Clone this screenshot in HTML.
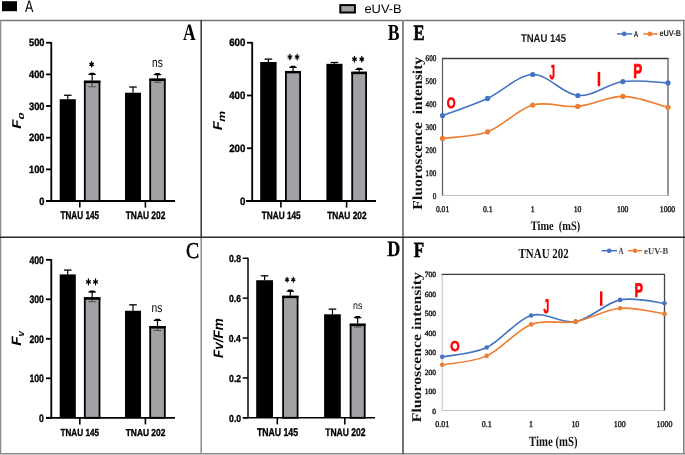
<!DOCTYPE html>
<html><head><meta charset="utf-8"><style>
html,body{margin:0;padding:0;background:#fff;width:685px;height:455px;overflow:hidden;}
svg{display:block;will-change:transform;}
</style></head><body>
<svg width="685" height="455" viewBox="0 0 685 455" style="text-rendering:geometricPrecision">
<rect x="0.00" y="0.00" width="685.00" height="455.00" fill="#fff" stroke="none" stroke-width="0"/>
<rect x="2.00" y="1.20" width="15.00" height="10.00" fill="#000" stroke="none" stroke-width="0"/>
<text x="24.97" y="12.00" font-family='"Liberation Sans", sans-serif' font-size="16.58" font-weight="normal" font-style="normal" fill="#000" textLength="8.36" lengthAdjust="spacingAndGlyphs" xml:space="preserve" >A</text>
<rect x="340.30" y="5.10" width="14.60" height="7.40" fill="#a2a2a6" stroke="#000" stroke-width="2"/>
<text x="364.45" y="13.28" font-family='"Liberation Sans", sans-serif' font-size="12.47" font-weight="normal" font-style="normal" fill="#000" textLength="37.23" lengthAdjust="spacingAndGlyphs" xml:space="preserve" >eUV-B</text>
<line x1="51.30" y1="42.10" x2="51.30" y2="201.90" stroke="#000" stroke-width="1.8" />
<line x1="46.00" y1="201.00" x2="175.00" y2="201.00" stroke="#000" stroke-width="1.8" />
<text x="29.00" y="46.42" font-family='"Liberation Sans", sans-serif' font-size="10.67" font-weight="bold" font-style="normal" fill="#000" textLength="15.51" lengthAdjust="spacingAndGlyphs" xml:space="preserve"  stroke="#000" stroke-width="0.35" stroke-linejoin="round">500</text>
<line x1="46.00" y1="201.00" x2="51.30" y2="201.00" stroke="#000" stroke-width="1.8" />
<text x="39.34" y="204.72" font-family='"Liberation Sans", sans-serif' font-size="10.67" font-weight="bold" font-style="normal" fill="#000" textLength="5.17" lengthAdjust="spacingAndGlyphs" xml:space="preserve"  stroke="#000" stroke-width="0.35" stroke-linejoin="round">0</text>
<line x1="46.00" y1="169.34" x2="51.30" y2="169.34" stroke="#000" stroke-width="1.8" />
<text x="29.00" y="173.06" font-family='"Liberation Sans", sans-serif' font-size="10.67" font-weight="bold" font-style="normal" fill="#000" textLength="15.51" lengthAdjust="spacingAndGlyphs" xml:space="preserve"  stroke="#000" stroke-width="0.35" stroke-linejoin="round">100</text>
<line x1="46.00" y1="137.68" x2="51.30" y2="137.68" stroke="#000" stroke-width="1.8" />
<text x="29.00" y="141.40" font-family='"Liberation Sans", sans-serif' font-size="10.67" font-weight="bold" font-style="normal" fill="#000" textLength="15.51" lengthAdjust="spacingAndGlyphs" xml:space="preserve"  stroke="#000" stroke-width="0.35" stroke-linejoin="round">200</text>
<line x1="46.00" y1="106.02" x2="51.30" y2="106.02" stroke="#000" stroke-width="1.8" />
<text x="29.00" y="109.71" font-family='"Liberation Sans", sans-serif' font-size="10.67" font-weight="bold" font-style="normal" fill="#000" textLength="15.51" lengthAdjust="spacingAndGlyphs" xml:space="preserve"  stroke="#000" stroke-width="0.35" stroke-linejoin="round">300</text>
<line x1="46.00" y1="74.36" x2="51.30" y2="74.36" stroke="#000" stroke-width="1.8" />
<text x="29.00" y="78.08" font-family='"Liberation Sans", sans-serif' font-size="10.67" font-weight="bold" font-style="normal" fill="#000" textLength="15.51" lengthAdjust="spacingAndGlyphs" xml:space="preserve"  stroke="#000" stroke-width="0.35" stroke-linejoin="round">400</text>
<line x1="46.00" y1="42.70" x2="51.30" y2="42.70" stroke="#000" stroke-width="1.8" />
<line x1="79.80" y1="201.00" x2="79.80" y2="207.60" stroke="#000" stroke-width="1.6" />
<line x1="145.40" y1="201.00" x2="145.40" y2="207.60" stroke="#000" stroke-width="1.6" />
<rect x="59.70" y="99.21" width="16.10" height="101.79" fill="#000" stroke="none" stroke-width="0"/>
<line x1="67.75" y1="95.26" x2="67.75" y2="99.21" stroke="#000" stroke-width="1.2" />
<line x1="63.95" y1="95.26" x2="71.55" y2="95.26" stroke="#000" stroke-width="1.3" />
<rect x="84.80" y="81.59" width="14.70" height="119.41" fill="#a2a2a6" stroke="#000" stroke-width="1.8"/>
<line x1="83.90" y1="81.89" x2="100.40" y2="81.89" stroke="#000" stroke-width="2.4" />
<line x1="92.15" y1="73.73" x2="92.15" y2="80.69" stroke="#000" stroke-width="1.2" />
<line x1="88.35" y1="74.33" x2="95.95" y2="74.33" stroke="#000" stroke-width="1.1" />
<rect x="89.55" y="72.73" width="5.2" height="2.2" rx="0.8" fill="#000"/>
<line x1="92.15" y1="83.09" x2="92.15" y2="86.71" stroke="#444" stroke-width="1.1" />
<line x1="88.35" y1="86.71" x2="95.95" y2="86.71" stroke="#555" stroke-width="1.1" />
<rect x="125.00" y="92.72" width="16.00" height="108.28" fill="#000" stroke="none" stroke-width="0"/>
<line x1="133.00" y1="87.02" x2="133.00" y2="92.72" stroke="#000" stroke-width="1.2" />
<line x1="129.20" y1="87.02" x2="136.80" y2="87.02" stroke="#000" stroke-width="1.3" />
<rect x="150.20" y="79.50" width="14.60" height="121.50" fill="#a2a2a6" stroke="#000" stroke-width="1.8"/>
<line x1="149.30" y1="79.80" x2="165.70" y2="79.80" stroke="#000" stroke-width="2.4" />
<line x1="157.50" y1="74.04" x2="157.50" y2="78.60" stroke="#000" stroke-width="1.2" />
<line x1="153.70" y1="74.64" x2="161.30" y2="74.64" stroke="#000" stroke-width="1.1" />
<rect x="154.90" y="73.04" width="5.2" height="2.2" rx="0.8" fill="#000"/>
<line x1="157.50" y1="81.00" x2="157.50" y2="82.28" stroke="#444" stroke-width="1.1" />
<line x1="153.70" y1="82.28" x2="161.30" y2="82.28" stroke="#555" stroke-width="1.1" />
<text x="60.49" y="219.11" font-family='"Liberation Sans", sans-serif' font-size="11.25" font-weight="bold" font-style="normal" fill="#000" textLength="38.57" lengthAdjust="spacingAndGlyphs" xml:space="preserve"  stroke="#000" stroke-width="0.35" stroke-linejoin="round">TNAU 145</text>
<text x="125.69" y="219.32" font-family='"Liberation Sans", sans-serif' font-size="10.95" font-weight="bold" font-style="normal" fill="#000" textLength="39.68" lengthAdjust="spacingAndGlyphs" xml:space="preserve"  stroke="#000" stroke-width="0.35" stroke-linejoin="round">TNAU 202</text>
<text x="152.11" y="66.87" font-family='"Liberation Sans", sans-serif' font-size="13.33" font-weight="normal" font-style="normal" fill="#000" textLength="10.76" lengthAdjust="spacingAndGlyphs" xml:space="preserve" >ns</text>
<line x1="252.20" y1="42.12" x2="252.20" y2="201.90" stroke="#000" stroke-width="1.8" />
<line x1="246.00" y1="201.00" x2="376.00" y2="201.00" stroke="#000" stroke-width="1.8" />
<text x="229.21" y="46.42" font-family='"Liberation Sans", sans-serif' font-size="10.67" font-weight="bold" font-style="normal" fill="#000" textLength="16.21" lengthAdjust="spacingAndGlyphs" xml:space="preserve"  stroke="#000" stroke-width="0.35" stroke-linejoin="round">600</text>
<line x1="247.00" y1="201.00" x2="252.20" y2="201.00" stroke="#000" stroke-width="1.8" />
<text x="240.02" y="204.70" font-family='"Liberation Sans", sans-serif' font-size="10.67" font-weight="bold" font-style="normal" fill="#000" textLength="5.40" lengthAdjust="spacingAndGlyphs" xml:space="preserve"  stroke="#000" stroke-width="0.35" stroke-linejoin="round">0</text>
<line x1="247.00" y1="148.24" x2="252.20" y2="148.24" stroke="#000" stroke-width="1.8" />
<text x="229.21" y="151.94" font-family='"Liberation Sans", sans-serif' font-size="10.67" font-weight="bold" font-style="normal" fill="#000" textLength="16.21" lengthAdjust="spacingAndGlyphs" xml:space="preserve"  stroke="#000" stroke-width="0.35" stroke-linejoin="round">200</text>
<line x1="247.00" y1="95.48" x2="252.20" y2="95.48" stroke="#000" stroke-width="1.8" />
<text x="229.21" y="99.18" font-family='"Liberation Sans", sans-serif' font-size="10.67" font-weight="bold" font-style="normal" fill="#000" textLength="16.21" lengthAdjust="spacingAndGlyphs" xml:space="preserve"  stroke="#000" stroke-width="0.35" stroke-linejoin="round">400</text>
<line x1="247.00" y1="42.72" x2="252.20" y2="42.72" stroke="#000" stroke-width="1.8" />
<line x1="280.90" y1="201.00" x2="280.90" y2="207.60" stroke="#000" stroke-width="1.6" />
<line x1="346.60" y1="201.00" x2="346.60" y2="207.60" stroke="#000" stroke-width="1.6" />
<rect x="260.20" y="61.98" width="16.40" height="139.02" fill="#000" stroke="none" stroke-width="0"/>
<line x1="268.40" y1="59.08" x2="268.40" y2="61.98" stroke="#000" stroke-width="1.2" />
<line x1="264.60" y1="59.08" x2="272.20" y2="59.08" stroke="#000" stroke-width="1.3" />
<rect x="285.90" y="71.85" width="14.20" height="129.15" fill="#a2a2a6" stroke="#000" stroke-width="1.8"/>
<line x1="285.00" y1="72.15" x2="301.00" y2="72.15" stroke="#000" stroke-width="2.4" />
<line x1="293.00" y1="66.73" x2="293.00" y2="70.95" stroke="#000" stroke-width="1.2" />
<line x1="289.20" y1="67.33" x2="296.80" y2="67.33" stroke="#000" stroke-width="1.1" />
<rect x="290.40" y="65.73" width="5.2" height="2.2" rx="0.8" fill="#000"/>
<rect x="326.40" y="63.82" width="16.10" height="137.18" fill="#000" stroke="none" stroke-width="0"/>
<line x1="334.45" y1="62.51" x2="334.45" y2="63.82" stroke="#000" stroke-width="1.2" />
<line x1="330.65" y1="62.51" x2="338.25" y2="62.51" stroke="#000" stroke-width="1.3" />
<rect x="352.20" y="72.64" width="13.90" height="128.36" fill="#a2a2a6" stroke="#000" stroke-width="1.8"/>
<line x1="351.30" y1="72.94" x2="367.00" y2="72.94" stroke="#000" stroke-width="2.4" />
<line x1="359.15" y1="68.84" x2="359.15" y2="71.74" stroke="#000" stroke-width="1.2" />
<line x1="355.35" y1="69.44" x2="362.95" y2="69.44" stroke="#000" stroke-width="1.1" />
<rect x="356.55" y="67.84" width="5.2" height="2.2" rx="0.8" fill="#000"/>
<text x="261.69" y="218.92" font-family='"Liberation Sans", sans-serif' font-size="10.54" font-weight="bold" font-style="normal" fill="#000" textLength="38.97" lengthAdjust="spacingAndGlyphs" xml:space="preserve"  stroke="#000" stroke-width="0.35" stroke-linejoin="round">TNAU 145</text>
<text x="327.29" y="218.92" font-family='"Liberation Sans", sans-serif' font-size="10.39" font-weight="bold" font-style="normal" fill="#000" textLength="39.28" lengthAdjust="spacingAndGlyphs" xml:space="preserve"  stroke="#000" stroke-width="0.35" stroke-linejoin="round">TNAU 202</text>
<line x1="51.30" y1="259.20" x2="51.30" y2="418.70" stroke="#000" stroke-width="1.8" />
<line x1="46.00" y1="417.80" x2="175.00" y2="417.80" stroke="#000" stroke-width="1.8" />
<text x="29.47" y="342.72" font-family='"Liberation Sans", sans-serif' font-size="10.81" font-weight="bold" font-style="normal" fill="#000" textLength="14.41" lengthAdjust="spacingAndGlyphs" xml:space="preserve"  stroke="#000" stroke-width="0.35" stroke-linejoin="round">200</text>
<line x1="46.00" y1="417.80" x2="51.30" y2="417.80" stroke="#000" stroke-width="1.8" />
<text x="39.08" y="421.72" font-family='"Liberation Sans", sans-serif' font-size="10.81" font-weight="bold" font-style="normal" fill="#000" textLength="4.80" lengthAdjust="spacingAndGlyphs" xml:space="preserve"  stroke="#000" stroke-width="0.35" stroke-linejoin="round">0</text>
<line x1="46.00" y1="378.30" x2="51.30" y2="378.30" stroke="#000" stroke-width="1.8" />
<text x="29.47" y="382.22" font-family='"Liberation Sans", sans-serif' font-size="10.81" font-weight="bold" font-style="normal" fill="#000" textLength="14.41" lengthAdjust="spacingAndGlyphs" xml:space="preserve"  stroke="#000" stroke-width="0.35" stroke-linejoin="round">100</text>
<line x1="46.00" y1="338.80" x2="51.30" y2="338.80" stroke="#000" stroke-width="1.8" />
<line x1="46.00" y1="299.30" x2="51.30" y2="299.30" stroke="#000" stroke-width="1.8" />
<text x="29.47" y="303.19" font-family='"Liberation Sans", sans-serif' font-size="10.81" font-weight="bold" font-style="normal" fill="#000" textLength="14.41" lengthAdjust="spacingAndGlyphs" xml:space="preserve"  stroke="#000" stroke-width="0.35" stroke-linejoin="round">300</text>
<line x1="46.00" y1="259.80" x2="51.30" y2="259.80" stroke="#000" stroke-width="1.8" />
<text x="29.47" y="263.72" font-family='"Liberation Sans", sans-serif' font-size="10.81" font-weight="bold" font-style="normal" fill="#000" textLength="14.41" lengthAdjust="spacingAndGlyphs" xml:space="preserve"  stroke="#000" stroke-width="0.35" stroke-linejoin="round">400</text>
<line x1="79.80" y1="417.80" x2="79.80" y2="424.40" stroke="#000" stroke-width="1.6" />
<line x1="145.40" y1="417.80" x2="145.40" y2="424.40" stroke="#000" stroke-width="1.6" />
<rect x="59.70" y="274.41" width="16.10" height="143.39" fill="#000" stroke="none" stroke-width="0"/>
<line x1="67.75" y1="270.07" x2="67.75" y2="274.41" stroke="#000" stroke-width="1.2" />
<line x1="63.95" y1="270.07" x2="71.55" y2="270.07" stroke="#000" stroke-width="1.3" />
<rect x="84.80" y="298.22" width="14.70" height="119.58" fill="#a2a2a6" stroke="#000" stroke-width="1.8"/>
<line x1="83.90" y1="298.52" x2="100.40" y2="298.52" stroke="#000" stroke-width="2.4" />
<line x1="92.15" y1="291.40" x2="92.15" y2="297.32" stroke="#000" stroke-width="1.2" />
<line x1="88.35" y1="292.00" x2="95.95" y2="292.00" stroke="#000" stroke-width="1.1" />
<rect x="89.55" y="290.40" width="5.2" height="2.2" rx="0.8" fill="#000"/>
<line x1="92.15" y1="299.72" x2="92.15" y2="301.67" stroke="#444" stroke-width="1.1" />
<line x1="88.35" y1="301.67" x2="95.95" y2="301.67" stroke="#555" stroke-width="1.1" />
<rect x="125.00" y="310.75" width="16.00" height="107.05" fill="#000" stroke="none" stroke-width="0"/>
<line x1="133.00" y1="304.83" x2="133.00" y2="310.75" stroke="#000" stroke-width="1.2" />
<line x1="129.20" y1="304.83" x2="136.80" y2="304.83" stroke="#000" stroke-width="1.3" />
<rect x="150.20" y="327.06" width="14.60" height="90.74" fill="#a2a2a6" stroke="#000" stroke-width="1.8"/>
<line x1="149.30" y1="327.36" x2="165.70" y2="327.36" stroke="#000" stroke-width="2.4" />
<line x1="157.50" y1="319.84" x2="157.50" y2="326.16" stroke="#000" stroke-width="1.2" />
<line x1="153.70" y1="320.44" x2="161.30" y2="320.44" stroke="#000" stroke-width="1.1" />
<rect x="154.90" y="318.84" width="5.2" height="2.2" rx="0.8" fill="#000"/>
<line x1="157.50" y1="328.56" x2="157.50" y2="330.50" stroke="#444" stroke-width="1.1" />
<line x1="153.70" y1="330.50" x2="161.30" y2="330.50" stroke="#555" stroke-width="1.1" />
<text x="60.49" y="436.12" font-family='"Liberation Sans", sans-serif' font-size="10.25" font-weight="bold" font-style="normal" fill="#000" textLength="38.57" lengthAdjust="spacingAndGlyphs" xml:space="preserve"  stroke="#000" stroke-width="0.35" stroke-linejoin="round">TNAU 145</text>
<text x="125.69" y="436.12" font-family='"Liberation Sans", sans-serif' font-size="10.11" font-weight="bold" font-style="normal" fill="#000" textLength="39.68" lengthAdjust="spacingAndGlyphs" xml:space="preserve"  stroke="#000" stroke-width="0.35" stroke-linejoin="round">TNAU 202</text>
<text x="151.61" y="311.87" font-family='"Liberation Sans", sans-serif' font-size="12.79" font-weight="normal" font-style="normal" fill="#000" textLength="10.87" lengthAdjust="spacingAndGlyphs" xml:space="preserve" >ns</text>
<line x1="248.00" y1="257.68" x2="248.00" y2="418.55" stroke="#000" stroke-width="1.5" />
<line x1="243.00" y1="417.80" x2="375.00" y2="417.80" stroke="#000" stroke-width="1.5" />
<text x="229.03" y="262.02" font-family='"Liberation Sans", sans-serif' font-size="10.11" font-weight="bold" font-style="normal" fill="#000" textLength="11.95" lengthAdjust="spacingAndGlyphs" xml:space="preserve"  stroke="#000" stroke-width="0.35" stroke-linejoin="round">0.8</text>
<line x1="242.70" y1="417.80" x2="248.00" y2="417.80" stroke="#000" stroke-width="1.5" />
<text x="229.12" y="421.54" font-family='"Liberation Sans", sans-serif' font-size="10.11" font-weight="bold" font-style="normal" fill="#000" textLength="11.95" lengthAdjust="spacingAndGlyphs" xml:space="preserve"  stroke="#000" stroke-width="0.35" stroke-linejoin="round">0.0</text>
<line x1="242.70" y1="377.92" x2="248.00" y2="377.92" stroke="#000" stroke-width="1.5" />
<text x="229.12" y="381.66" font-family='"Liberation Sans", sans-serif' font-size="10.11" font-weight="bold" font-style="normal" fill="#000" textLength="11.95" lengthAdjust="spacingAndGlyphs" xml:space="preserve"  stroke="#000" stroke-width="0.35" stroke-linejoin="round">0.2</text>
<line x1="242.70" y1="338.04" x2="248.00" y2="338.04" stroke="#000" stroke-width="1.5" />
<text x="228.82" y="341.78" font-family='"Liberation Sans", sans-serif' font-size="10.11" font-weight="bold" font-style="normal" fill="#000" textLength="11.95" lengthAdjust="spacingAndGlyphs" xml:space="preserve"  stroke="#000" stroke-width="0.35" stroke-linejoin="round">0.4</text>
<line x1="242.70" y1="298.16" x2="248.00" y2="298.16" stroke="#000" stroke-width="1.5" />
<text x="229.07" y="301.90" font-family='"Liberation Sans", sans-serif' font-size="10.11" font-weight="bold" font-style="normal" fill="#000" textLength="11.95" lengthAdjust="spacingAndGlyphs" xml:space="preserve"  stroke="#000" stroke-width="0.35" stroke-linejoin="round">0.6</text>
<line x1="242.70" y1="258.28" x2="248.00" y2="258.28" stroke="#000" stroke-width="1.5" />
<line x1="277.30" y1="417.80" x2="277.30" y2="424.40" stroke="#000" stroke-width="1.6" />
<line x1="344.80" y1="417.80" x2="344.80" y2="424.40" stroke="#000" stroke-width="1.6" />
<rect x="256.20" y="280.21" width="16.80" height="137.59" fill="#000" stroke="none" stroke-width="0"/>
<line x1="264.60" y1="275.83" x2="264.60" y2="280.21" stroke="#000" stroke-width="1.2" />
<line x1="260.80" y1="275.83" x2="268.40" y2="275.83" stroke="#000" stroke-width="1.3" />
<rect x="283.10" y="296.67" width="14.50" height="121.13" fill="#a2a2a6" stroke="#000" stroke-width="1.8"/>
<line x1="282.20" y1="296.97" x2="298.50" y2="296.97" stroke="#000" stroke-width="2.4" />
<line x1="290.35" y1="290.58" x2="290.35" y2="295.77" stroke="#000" stroke-width="1.2" />
<line x1="286.55" y1="291.18" x2="294.15" y2="291.18" stroke="#000" stroke-width="1.1" />
<rect x="287.75" y="289.58" width="5.2" height="2.2" rx="0.8" fill="#000"/>
<rect x="324.10" y="314.31" width="16.70" height="103.49" fill="#000" stroke="none" stroke-width="0"/>
<line x1="332.45" y1="309.13" x2="332.45" y2="314.31" stroke="#000" stroke-width="1.2" />
<line x1="328.65" y1="309.13" x2="336.25" y2="309.13" stroke="#000" stroke-width="1.3" />
<rect x="350.60" y="324.58" width="14.10" height="93.22" fill="#a2a2a6" stroke="#000" stroke-width="1.8"/>
<line x1="349.70" y1="324.88" x2="365.60" y2="324.88" stroke="#000" stroke-width="2.4" />
<line x1="357.65" y1="317.10" x2="357.65" y2="323.68" stroke="#000" stroke-width="1.2" />
<line x1="353.85" y1="317.70" x2="361.45" y2="317.70" stroke="#000" stroke-width="1.1" />
<rect x="355.05" y="316.10" width="5.2" height="2.2" rx="0.8" fill="#000"/>
<line x1="357.65" y1="326.08" x2="357.65" y2="327.07" stroke="#444" stroke-width="1.1" />
<line x1="353.85" y1="327.07" x2="361.45" y2="327.07" stroke="#555" stroke-width="1.1" />
<text x="256.89" y="436.21" font-family='"Liberation Sans", sans-serif' font-size="11.25" font-weight="bold" font-style="normal" fill="#000" textLength="41.19" lengthAdjust="spacingAndGlyphs" xml:space="preserve"  stroke="#000" stroke-width="0.35" stroke-linejoin="round">TNAU 145</text>
<text x="325.19" y="436.21" font-family='"Liberation Sans", sans-serif' font-size="11.10" font-weight="bold" font-style="normal" fill="#000" textLength="40.29" lengthAdjust="spacingAndGlyphs" xml:space="preserve"  stroke="#000" stroke-width="0.35" stroke-linejoin="round">TNAU 202</text>
<text x="353.00" y="309.29" font-family='"Liberation Sans", sans-serif' font-size="10.59" font-weight="normal" font-style="normal" fill="#000" textLength="9.31" lengthAdjust="spacingAndGlyphs" xml:space="preserve" >ns</text>
<path d="M91.60,61.75L91.60,66.85M89.88,63.31L93.32,65.29M93.32,63.31L89.88,65.29" stroke="#000" stroke-width="1.4" stroke-linecap="round" fill="none"/>
<circle cx="91.60" cy="64.30" r="1.19" fill="#000"/>
<path d="M289.90,54.30L289.90,59.70M288.08,55.95L291.72,58.05M291.72,55.95L288.08,58.05" stroke="#000" stroke-width="1.3" stroke-linecap="round" fill="none"/>
<circle cx="289.90" cy="57.00" r="1.10" fill="#000"/>
<path d="M297.10,54.30L297.10,59.70M295.28,55.95L298.92,58.05M298.92,55.95L295.28,58.05" stroke="#000" stroke-width="1.3" stroke-linecap="round" fill="none"/>
<circle cx="297.10" cy="57.00" r="1.10" fill="#000"/>
<path d="M354.50,56.50L354.50,61.90M352.68,58.15L356.32,60.25M356.32,58.15L352.68,60.25" stroke="#000" stroke-width="1.3" stroke-linecap="round" fill="none"/>
<circle cx="354.50" cy="59.20" r="1.10" fill="#000"/>
<path d="M361.80,56.50L361.80,61.90M359.98,58.15L363.62,60.25M363.62,58.15L359.98,60.25" stroke="#000" stroke-width="1.3" stroke-linecap="round" fill="none"/>
<circle cx="361.80" cy="59.20" r="1.10" fill="#000"/>
<path d="M88.45,278.97L88.45,284.82M86.47,280.76L90.43,283.04M90.43,280.76L86.47,283.04" stroke="#000" stroke-width="1.25" stroke-linecap="round" fill="none"/>
<circle cx="88.45" cy="281.90" r="1.06" fill="#000"/>
<path d="M95.50,278.97L95.50,284.82M93.52,280.76L97.48,283.04M97.48,280.76L93.52,283.04" stroke="#000" stroke-width="1.25" stroke-linecap="round" fill="none"/>
<circle cx="95.50" cy="281.90" r="1.06" fill="#000"/>
<path d="M287.10,277.32L287.10,282.07M285.50,278.77L288.70,280.63M288.70,278.77L285.50,280.63" stroke="#000" stroke-width="1.15" stroke-linecap="round" fill="none"/>
<circle cx="287.10" cy="279.70" r="0.98" fill="#000"/>
<path d="M293.30,277.32L293.30,282.07M291.70,278.77L294.90,280.63M294.90,278.77L291.70,280.63" stroke="#000" stroke-width="1.15" stroke-linecap="round" fill="none"/>
<circle cx="293.30" cy="279.70" r="0.98" fill="#000"/>
<text transform="rotate(-90)" x="-128.86" y="21.00" font-family='"Liberation Sans", sans-serif' font-size="12.80" font-weight="bold" font-style="italic" fill="#000" textLength="9.24" lengthAdjust="spacingAndGlyphs" xml:space="preserve" >F</text>
<text transform="rotate(-90)" x="-119.42" y="23.53" font-family='"Liberation Sans", sans-serif' font-size="7.35" font-weight="bold" font-style="italic" fill="#000" textLength="6.83" lengthAdjust="spacingAndGlyphs" xml:space="preserve" >0</text>
<text transform="rotate(-90)" x="-130.16" y="221.70" font-family='"Liberation Sans", sans-serif' font-size="12.80" font-weight="bold" font-style="italic" fill="#000" textLength="9.14" lengthAdjust="spacingAndGlyphs" xml:space="preserve" >F</text>
<text transform="rotate(-90)" x="-121.71" y="224.80" font-family='"Liberation Sans", sans-serif' font-size="9.86" font-weight="bold" font-style="italic" fill="#000" textLength="10.82" lengthAdjust="spacingAndGlyphs" xml:space="preserve" >m</text>
<text transform="rotate(-90)" x="-345.87" y="21.30" font-family='"Liberation Sans", sans-serif' font-size="13.53" font-weight="bold" font-style="italic" fill="#000" textLength="9.54" lengthAdjust="spacingAndGlyphs" xml:space="preserve" >F</text>
<text transform="rotate(-90)" x="-336.53" y="23.50" font-family='"Liberation Sans", sans-serif' font-size="9.29" font-weight="bold" font-style="italic" fill="#000" textLength="5.41" lengthAdjust="spacingAndGlyphs" xml:space="preserve" >v</text>
<text transform="rotate(-90)" x="-357.94" y="222.93" font-family='"Liberation Sans", sans-serif' font-size="13.69" font-weight="bold" font-style="italic" fill="#000" textLength="39.71" lengthAdjust="spacingAndGlyphs" xml:space="preserve" >Fv/Fm</text>
<text x="183.03" y="40.00" font-family='"Liberation Serif", serif' font-size="23.33" font-weight="bold" font-style="normal" fill="#000" textLength="12.60" lengthAdjust="spacingAndGlyphs" xml:space="preserve" >A</text>
<text x="387.69" y="39.94" font-family='"Liberation Serif", serif' font-size="22.81" font-weight="bold" font-style="normal" fill="#000" textLength="11.79" lengthAdjust="spacingAndGlyphs" xml:space="preserve" >B</text>
<text x="185.91" y="258.37" font-family='"Liberation Serif", serif' font-size="22.75" font-weight="normal" font-style="normal" fill="#000" textLength="13.17" lengthAdjust="spacingAndGlyphs" xml:space="preserve"  stroke="#000" stroke-width="0.6" stroke-linejoin="round">C</text>
<text x="387.13" y="255.99" font-family='"Liberation Serif", serif' font-size="22.21" font-weight="bold" font-style="normal" fill="#000" textLength="13.01" lengthAdjust="spacingAndGlyphs" xml:space="preserve"  stroke="#000" stroke-width="0.3" stroke-linejoin="round">D</text>
<text x="413.46" y="39.65" font-family='"Liberation Serif", serif' font-size="21.83" font-weight="bold" font-style="normal" fill="#000" textLength="11.05" lengthAdjust="spacingAndGlyphs" xml:space="preserve"  stroke="#000" stroke-width="0.7" stroke-linejoin="round">E</text>
<text x="413.80" y="257.00" font-family='"Liberation Serif", serif' font-size="21.53" font-weight="bold" font-style="normal" fill="#000" textLength="10.42" lengthAdjust="spacingAndGlyphs" xml:space="preserve"  stroke="#000" stroke-width="0.6" stroke-linejoin="round">F</text>
<line x1="442.50" y1="195.50" x2="668.00" y2="195.50" stroke="#c0c0c0" stroke-width="1.1" />
<line x1="442.50" y1="58.50" x2="442.50" y2="195.50" stroke="#5a5a5a" stroke-width="1.2" />
<line x1="442.00" y1="58.50" x2="668.60" y2="58.50" stroke="#3a3a3a" stroke-width="1.3" />
<line x1="668.00" y1="58.50" x2="668.00" y2="195.50" stroke="#606060" stroke-width="1.3" />
<text x="425.60" y="152.89" font-family='"Liberation Serif", serif' font-size="8.52" font-weight="normal" font-style="normal" fill="#222" textLength="10.74" lengthAdjust="spacingAndGlyphs" xml:space="preserve"  stroke="#222" stroke-width="0.45" stroke-linejoin="round">200</text>
<text x="432.76" y="198.56" font-family='"Liberation Serif", serif' font-size="8.52" font-weight="normal" font-style="normal" fill="#222" textLength="3.58" lengthAdjust="spacingAndGlyphs" xml:space="preserve"  stroke="#222" stroke-width="0.45" stroke-linejoin="round">0</text>
<text x="425.60" y="175.57" font-family='"Liberation Serif", serif' font-size="8.52" font-weight="normal" font-style="normal" fill="#222" textLength="10.74" lengthAdjust="spacingAndGlyphs" xml:space="preserve"  stroke="#222" stroke-width="0.45" stroke-linejoin="round">100</text>
<text x="425.60" y="129.61" font-family='"Liberation Serif", serif' font-size="8.52" font-weight="normal" font-style="normal" fill="#222" textLength="10.74" lengthAdjust="spacingAndGlyphs" xml:space="preserve"  stroke="#222" stroke-width="0.45" stroke-linejoin="round">300</text>
<text x="425.60" y="106.62" font-family='"Liberation Serif", serif' font-size="8.52" font-weight="normal" font-style="normal" fill="#222" textLength="10.74" lengthAdjust="spacingAndGlyphs" xml:space="preserve"  stroke="#222" stroke-width="0.45" stroke-linejoin="round">400</text>
<text x="425.60" y="83.64" font-family='"Liberation Serif", serif' font-size="8.52" font-weight="normal" font-style="normal" fill="#222" textLength="10.74" lengthAdjust="spacingAndGlyphs" xml:space="preserve"  stroke="#222" stroke-width="0.45" stroke-linejoin="round">500</text>
<text x="425.60" y="60.66" font-family='"Liberation Serif", serif' font-size="8.52" font-weight="normal" font-style="normal" fill="#222" textLength="10.74" lengthAdjust="spacingAndGlyphs" xml:space="preserve"  stroke="#222" stroke-width="0.45" stroke-linejoin="round">600</text>
<text x="659.86" y="211.69" font-family='"Liberation Serif", serif' font-size="8.67" font-weight="normal" font-style="normal" fill="#222" textLength="15.31" lengthAdjust="spacingAndGlyphs" xml:space="preserve"  stroke="#222" stroke-width="0.45" stroke-linejoin="round">1000</text>
<text x="435.89" y="211.65" font-family='"Liberation Serif", serif' font-size="8.67" font-weight="normal" font-style="normal" fill="#222" textLength="13.39" lengthAdjust="spacingAndGlyphs" xml:space="preserve"  stroke="#222" stroke-width="0.45" stroke-linejoin="round">0.01</text>
<text x="482.90" y="211.65" font-family='"Liberation Serif", serif' font-size="8.67" font-weight="normal" font-style="normal" fill="#222" textLength="9.57" lengthAdjust="spacingAndGlyphs" xml:space="preserve"  stroke="#222" stroke-width="0.45" stroke-linejoin="round">0.1</text>
<text x="530.68" y="211.78" font-family='"Liberation Serif", serif' font-size="8.67" font-weight="normal" font-style="normal" fill="#222" textLength="3.83" lengthAdjust="spacingAndGlyphs" xml:space="preserve"  stroke="#222" stroke-width="0.45" stroke-linejoin="round">1</text>
<text x="573.78" y="211.69" font-family='"Liberation Serif", serif' font-size="8.67" font-weight="normal" font-style="normal" fill="#222" textLength="7.65" lengthAdjust="spacingAndGlyphs" xml:space="preserve"  stroke="#222" stroke-width="0.45" stroke-linejoin="round">10</text>
<text x="616.97" y="211.69" font-family='"Liberation Serif", serif' font-size="8.67" font-weight="normal" font-style="normal" fill="#222" textLength="11.48" lengthAdjust="spacingAndGlyphs" xml:space="preserve"  stroke="#222" stroke-width="0.45" stroke-linejoin="round">100</text>
<path d="M442.50,115.58 C450.02,112.73 472.57,105.31 487.60,98.46 C502.63,91.61 517.67,74.98 532.70,74.48 C547.73,73.99 562.77,94.31 577.80,95.49 C592.83,96.67 607.87,83.65 622.90,81.56 C637.93,79.47 660.48,82.70 668.00,82.93" fill="none" stroke="#4472c4" stroke-width="1.6"/>
<circle cx="442.50" cy="115.58" r="2.6" fill="#4472c4"/>
<circle cx="487.60" cy="98.46" r="2.6" fill="#4472c4"/>
<circle cx="532.70" cy="74.48" r="2.6" fill="#4472c4"/>
<circle cx="577.80" cy="95.49" r="2.6" fill="#4472c4"/>
<circle cx="622.90" cy="81.56" r="2.6" fill="#4472c4"/>
<circle cx="668.00" cy="82.93" r="2.6" fill="#4472c4"/>
<path d="M442.50,138.42 C450.02,137.31 472.57,137.35 487.60,131.80 C502.63,126.24 517.67,109.30 532.70,105.08 C547.73,100.86 562.77,107.90 577.80,106.45 C592.83,105.00 607.87,96.25 622.90,96.40 C637.93,96.56 660.48,105.54 668.00,107.36" fill="none" stroke="#ed7d31" stroke-width="1.6"/>
<circle cx="442.50" cy="138.42" r="2.6" fill="#ed7d31"/>
<circle cx="487.60" cy="131.80" r="2.6" fill="#ed7d31"/>
<circle cx="532.70" cy="105.08" r="2.6" fill="#ed7d31"/>
<circle cx="577.80" cy="106.45" r="2.6" fill="#ed7d31"/>
<circle cx="622.90" cy="96.40" r="2.6" fill="#ed7d31"/>
<circle cx="668.00" cy="107.36" r="2.6" fill="#ed7d31"/>
<line x1="442.20" y1="410.50" x2="664.50" y2="410.50" stroke="#c0c0c0" stroke-width="1.1" />
<line x1="442.20" y1="274.40" x2="442.20" y2="410.50" stroke="#c8c8c8" stroke-width="1.2" />
<line x1="441.70" y1="274.40" x2="665.10" y2="274.40" stroke="#3a3a3a" stroke-width="1.3" />
<line x1="664.50" y1="274.40" x2="664.50" y2="410.50" stroke="#444" stroke-width="1.3" />
<text x="424.74" y="277.40" font-family='"Liberation Serif", serif' font-size="7.93" font-weight="normal" font-style="normal" fill="#222" textLength="11.22" lengthAdjust="spacingAndGlyphs" xml:space="preserve"  stroke="#222" stroke-width="0.45" stroke-linejoin="round">700</text>
<text x="432.22" y="413.50" font-family='"Liberation Serif", serif' font-size="7.93" font-weight="normal" font-style="normal" fill="#222" textLength="3.74" lengthAdjust="spacingAndGlyphs" xml:space="preserve"  stroke="#222" stroke-width="0.45" stroke-linejoin="round">0</text>
<text x="424.74" y="394.05" font-family='"Liberation Serif", serif' font-size="7.93" font-weight="normal" font-style="normal" fill="#222" textLength="11.22" lengthAdjust="spacingAndGlyphs" xml:space="preserve"  stroke="#222" stroke-width="0.45" stroke-linejoin="round">100</text>
<text x="424.74" y="374.61" font-family='"Liberation Serif", serif' font-size="7.93" font-weight="normal" font-style="normal" fill="#222" textLength="11.22" lengthAdjust="spacingAndGlyphs" xml:space="preserve"  stroke="#222" stroke-width="0.45" stroke-linejoin="round">200</text>
<text x="424.74" y="355.17" font-family='"Liberation Serif", serif' font-size="7.93" font-weight="normal" font-style="normal" fill="#222" textLength="11.22" lengthAdjust="spacingAndGlyphs" xml:space="preserve"  stroke="#222" stroke-width="0.45" stroke-linejoin="round">300</text>
<text x="424.74" y="335.72" font-family='"Liberation Serif", serif' font-size="7.93" font-weight="normal" font-style="normal" fill="#222" textLength="11.22" lengthAdjust="spacingAndGlyphs" xml:space="preserve"  stroke="#222" stroke-width="0.45" stroke-linejoin="round">400</text>
<text x="424.74" y="316.28" font-family='"Liberation Serif", serif' font-size="7.93" font-weight="normal" font-style="normal" fill="#222" textLength="11.22" lengthAdjust="spacingAndGlyphs" xml:space="preserve"  stroke="#222" stroke-width="0.45" stroke-linejoin="round">500</text>
<text x="424.74" y="296.84" font-family='"Liberation Serif", serif' font-size="7.93" font-weight="normal" font-style="normal" fill="#222" textLength="11.22" lengthAdjust="spacingAndGlyphs" xml:space="preserve"  stroke="#222" stroke-width="0.45" stroke-linejoin="round">600</text>
<text x="656.43" y="426.69" font-family='"Liberation Serif", serif' font-size="8.81" font-weight="normal" font-style="normal" fill="#222" textLength="15.95" lengthAdjust="spacingAndGlyphs" xml:space="preserve"  stroke="#222" stroke-width="0.45" stroke-linejoin="round">1000</text>
<text x="435.31" y="426.64" font-family='"Liberation Serif", serif' font-size="8.81" font-weight="normal" font-style="normal" fill="#222" textLength="13.95" lengthAdjust="spacingAndGlyphs" xml:space="preserve"  stroke="#222" stroke-width="0.45" stroke-linejoin="round">0.01</text>
<text x="481.77" y="426.64" font-family='"Liberation Serif", serif' font-size="8.81" font-weight="normal" font-style="normal" fill="#222" textLength="9.97" lengthAdjust="spacingAndGlyphs" xml:space="preserve"  stroke="#222" stroke-width="0.45" stroke-linejoin="round">0.1</text>
<text x="529.02" y="426.77" font-family='"Liberation Serif", serif' font-size="8.81" font-weight="normal" font-style="normal" fill="#222" textLength="3.99" lengthAdjust="spacingAndGlyphs" xml:space="preserve"  stroke="#222" stroke-width="0.45" stroke-linejoin="round">1</text>
<text x="571.39" y="426.69" font-family='"Liberation Serif", serif' font-size="8.81" font-weight="normal" font-style="normal" fill="#222" textLength="7.97" lengthAdjust="spacingAndGlyphs" xml:space="preserve"  stroke="#222" stroke-width="0.45" stroke-linejoin="round">10</text>
<text x="613.86" y="426.69" font-family='"Liberation Serif", serif' font-size="8.81" font-weight="normal" font-style="normal" fill="#222" textLength="11.96" lengthAdjust="spacingAndGlyphs" xml:space="preserve"  stroke="#222" stroke-width="0.45" stroke-linejoin="round">100</text>
<path d="M442.20,356.87 C449.61,355.31 471.84,354.44 486.66,347.53 C501.48,340.63 516.30,319.76 531.12,315.45 C545.94,311.14 560.76,324.27 575.58,321.67 C590.40,319.08 605.22,302.98 620.04,299.90 C634.86,296.82 657.09,302.65 664.50,303.20" fill="none" stroke="#4472c4" stroke-width="1.6"/>
<circle cx="442.20" cy="356.87" r="2.3" fill="#4472c4"/>
<circle cx="486.66" cy="347.53" r="2.3" fill="#4472c4"/>
<circle cx="531.12" cy="315.45" r="2.3" fill="#4472c4"/>
<circle cx="575.58" cy="321.67" r="2.3" fill="#4472c4"/>
<circle cx="620.04" cy="299.90" r="2.3" fill="#4472c4"/>
<circle cx="664.50" cy="303.20" r="2.3" fill="#4472c4"/>
<path d="M442.20,364.84 C449.61,363.35 471.84,362.63 486.66,355.89 C501.48,349.15 516.30,330.10 531.12,324.40 C545.94,318.69 560.76,324.36 575.58,321.67 C590.40,318.98 605.22,309.55 620.04,308.26 C634.86,306.96 657.09,312.96 664.50,313.90" fill="none" stroke="#ed7d31" stroke-width="1.6"/>
<circle cx="442.20" cy="364.84" r="2.3" fill="#ed7d31"/>
<circle cx="486.66" cy="355.89" r="2.3" fill="#ed7d31"/>
<circle cx="531.12" cy="324.40" r="2.3" fill="#ed7d31"/>
<circle cx="575.58" cy="321.67" r="2.3" fill="#ed7d31"/>
<circle cx="620.04" cy="308.26" r="2.3" fill="#ed7d31"/>
<circle cx="664.50" cy="313.90" r="2.3" fill="#ed7d31"/>
<text x="520.90" y="41.79" font-family='"Liberation Sans", sans-serif' font-size="11.33" font-weight="bold" font-style="normal" fill="#111" textLength="45.07" lengthAdjust="spacingAndGlyphs" xml:space="preserve" >TNAU 145</text>
<text x="518.54" y="258.46" font-family='"Liberation Serif", serif' font-size="13.93" font-weight="bold" font-style="normal" fill="#111" textLength="50.14" lengthAdjust="spacingAndGlyphs" xml:space="preserve" >TNAU 202</text>
<text x="530.84" y="229.74" font-family='"Liberation Serif", serif' font-size="13.00" font-weight="bold" font-style="normal" fill="#111" textLength="49.31" lengthAdjust="spacingAndGlyphs" xml:space="preserve" >Time  (mS)</text>
<text x="529.04" y="445.80" font-family='"Liberation Serif", serif' font-size="14.10" font-weight="bold" font-style="normal" fill="#111" textLength="48.43" lengthAdjust="spacingAndGlyphs" xml:space="preserve" >Time (mS)</text>
<text transform="rotate(-90)" x="-209.67" y="421.55" font-family='"Liberation Serif", serif' font-size="13.74" font-weight="bold" font-style="normal" fill="#111" textLength="152.85" lengthAdjust="spacingAndGlyphs" xml:space="preserve" >Fluoroscence  intensity</text>
<text transform="rotate(-90)" x="-422.28" y="421.32" font-family='"Liberation Serif", serif' font-size="13.41" font-weight="bold" font-style="normal" fill="#111" textLength="150.15" lengthAdjust="spacingAndGlyphs" xml:space="preserve" >Fluoroscence intensity</text>
<line x1="617.00" y1="33.90" x2="632.30" y2="33.90" stroke="#4472c4" stroke-width="1.5" />
<circle cx="624.20" cy="33.90" r="2.3" fill="#4472c4"/>
<text x="633.84" y="36.50" font-family='"Liberation Sans", sans-serif' font-size="8.44" font-weight="bold" font-style="normal" fill="#222" textLength="4.53" lengthAdjust="spacingAndGlyphs" xml:space="preserve" >A</text>
<line x1="643.30" y1="33.90" x2="657.60" y2="33.90" stroke="#ed7d31" stroke-width="1.5" />
<circle cx="650.00" cy="33.90" r="2.3" fill="#ed7d31"/>
<text x="659.51" y="36.42" font-family='"Liberation Sans", sans-serif' font-size="8.32" font-weight="bold" font-style="normal" fill="#222" textLength="21.52" lengthAdjust="spacingAndGlyphs" xml:space="preserve" >eUV-B</text>
<line x1="601.50" y1="250.70" x2="617.00" y2="250.70" stroke="#4472c4" stroke-width="1.5" />
<circle cx="609.20" cy="250.70" r="2.3" fill="#4472c4"/>
<text x="618.43" y="253.80" font-family='"Liberation Serif", serif' font-size="9.39" font-weight="bold" font-style="normal" fill="#444" textLength="5.12" lengthAdjust="spacingAndGlyphs" xml:space="preserve" >A</text>
<line x1="628.00" y1="250.70" x2="642.00" y2="250.70" stroke="#ed7d31" stroke-width="1.5" />
<circle cx="635.00" cy="250.70" r="2.3" fill="#ed7d31"/>
<text x="644.10" y="253.66" font-family='"Liberation Serif", serif' font-size="9.25" font-weight="bold" font-style="normal" fill="#444" textLength="24.23" lengthAdjust="spacingAndGlyphs" xml:space="preserve" >eUV-B</text>
<rect x="597.70" y="71.90" width="2.50" height="14.30" fill="#ff0000" stroke="none" stroke-width="0"/>
<rect x="600.00" y="291.40" width="2.40" height="14.40" fill="#ff0000" stroke="none" stroke-width="0"/>
<text x="446.80" y="107.60" font-family='"Liberation Sans", sans-serif' font-size="14.84" font-weight="bold" font-style="normal" fill="#ff0000" textLength="8.84" lengthAdjust="spacingAndGlyphs" xml:space="preserve"  stroke="#ff0000" stroke-width="0.7" stroke-linejoin="round">O</text>
<text x="549.40" y="79.15" font-family='"Liberation Sans", sans-serif' font-size="20.22" font-weight="bold" font-style="normal" fill="#ff0000" textLength="5.41" lengthAdjust="spacingAndGlyphs" xml:space="preserve"  stroke="#ff0000" stroke-width="0.7" stroke-linejoin="round">J</text>
<text x="633.24" y="78.05" font-family='"Liberation Sans", sans-serif' font-size="20.07" font-weight="bold" font-style="normal" fill="#ff0000" textLength="8.97" lengthAdjust="spacingAndGlyphs" xml:space="preserve"  stroke="#ff0000" stroke-width="0.7" stroke-linejoin="round">P</text>
<text x="450.17" y="350.51" font-family='"Liberation Sans", sans-serif' font-size="14.28" font-weight="bold" font-style="normal" fill="#ff0000" textLength="9.40" lengthAdjust="spacingAndGlyphs" xml:space="preserve"  stroke="#ff0000" stroke-width="0.7" stroke-linejoin="round">O</text>
<text x="543.50" y="313.46" font-family='"Liberation Sans", sans-serif' font-size="19.50" font-weight="bold" font-style="normal" fill="#ff0000" textLength="5.65" lengthAdjust="spacingAndGlyphs" xml:space="preserve"  stroke="#ff0000" stroke-width="0.7" stroke-linejoin="round">J</text>
<text x="634.49" y="296.95" font-family='"Liberation Sans", sans-serif' font-size="19.78" font-weight="bold" font-style="normal" fill="#ff0000" textLength="8.50" lengthAdjust="spacingAndGlyphs" xml:space="preserve"  stroke="#ff0000" stroke-width="0.7" stroke-linejoin="round">P</text>
<line x1="0.00" y1="20.50" x2="685.00" y2="20.50" stroke="#777" stroke-width="1.5" />
<line x1="0.60" y1="20.00" x2="0.60" y2="454.00" stroke="#8a8a8a" stroke-width="1.3" />
<line x1="683.80" y1="20.00" x2="683.80" y2="454.00" stroke="#7a7a7a" stroke-width="1.5" />
<line x1="0.00" y1="453.70" x2="685.00" y2="453.70" stroke="#8a8a8a" stroke-width="1.5" />
<line x1="201.20" y1="20.00" x2="201.20" y2="237.00" stroke="#333" stroke-width="1.5" />
<line x1="201.20" y1="237.00" x2="201.20" y2="454.00" stroke="#8a8a8a" stroke-width="1.5" />
<line x1="403.00" y1="20.00" x2="403.00" y2="237.00" stroke="#8a8a8a" stroke-width="2" />
<line x1="403.00" y1="237.00" x2="403.00" y2="454.00" stroke="#444" stroke-width="1.5" />
<line x1="0.00" y1="237.30" x2="685.00" y2="237.30" stroke="#2a2a2a" stroke-width="1.5" />
</svg>
</body></html>
